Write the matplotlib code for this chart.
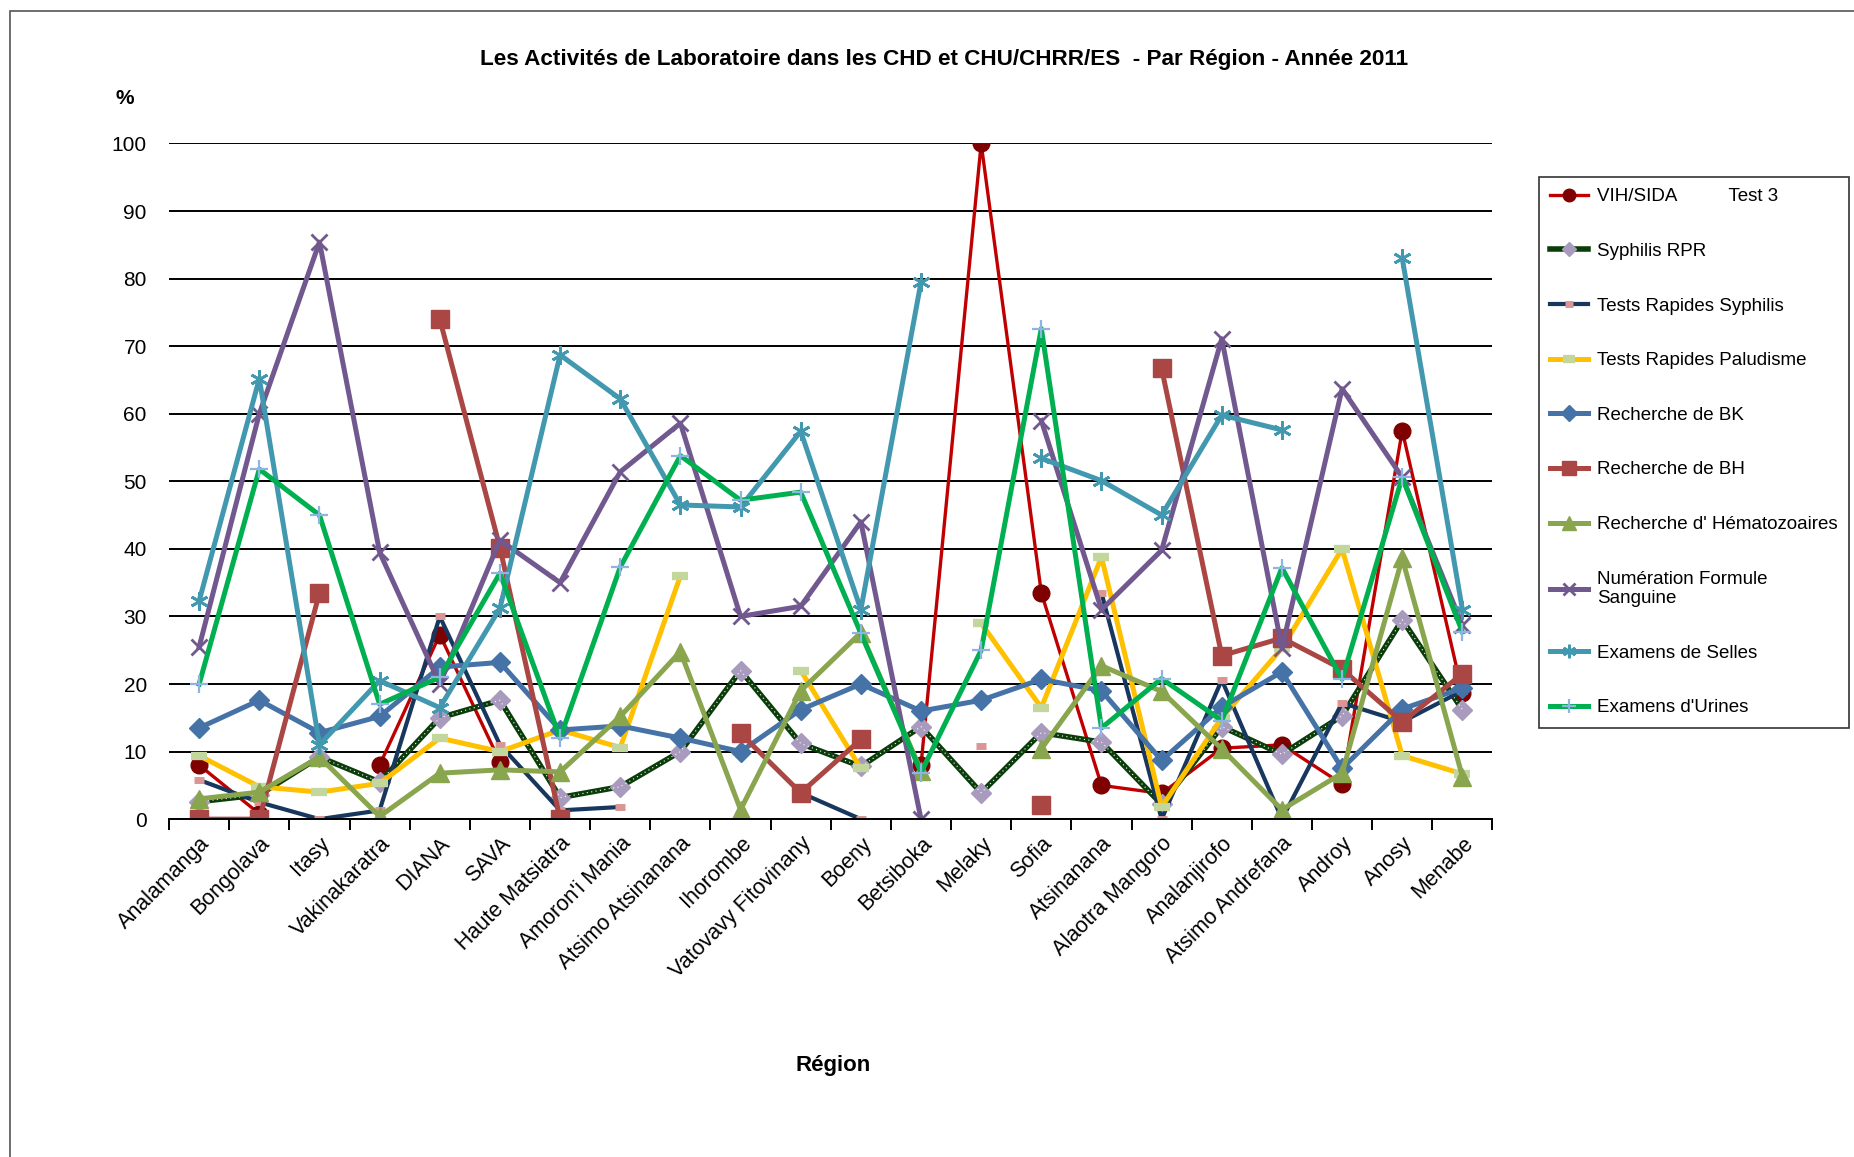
import numpy as np
import matplotlib
matplotlib.use("Agg")
import matplotlib.pyplot as plt
from matplotlib.patches import Rectangle

plt.rcParams['font.family'] = ['Liberation Sans', 'DejaVu Sans']

nan = np.nan

regions = ["Analamanga", "Bongolava", "Itasy", "Vakinakaratra", "DIANA", "SAVA",
           "Haute Matsiatra", "Amoron'i Mania", "Atsimo Atsinanana", "Ihorombe",
           "Vatovavy Fitovinany", "Boeny", "Betsiboka", "Melaky", "Sofia",
           "Atsinanana", "Alaotra Mangoro", "Analanjirofo", "Atsimo Andrefana",
           "Androy", "Anosy", "Menabe"]

# valeurs (%)
vih = [8, 0.8, nan, 8, 27.3, 8.5, nan, nan, nan, nan, nan, nan, 8, 100, 33.5,
       5, 3.8, 10.5, 11, 5.2, 57.5, 18.7]
syphilis_rpr = [2.6, 3.6, 9.2, 5.5, 15, 17.6, 3.2, 4.8, 10, 22, 11.2, 7.8, 13.7,
                3.9, 12.8, 11.4, 2.2, 13.7, 9.6, 15.3, 29.5, 16.2]
tr_syphilis = [5.8, 2.5, 0, 1.3, 30, 11, 1.3, 1.8, nan, nan, 3.9, 0, nan, 10.8,
               nan, 33.5, 0, 20.6, 0, 17.2, 14.4, 19]
tr_palu = [9.4, 4.8, 4, 5.3, 12, 10, 13.2, 10.6, 36, nan, 22, 7.5, nan, 29,
           16.5, 38.8, 1.8, 15, 25.3, 40, 9.4, 6.7]
bk = [13.5, 17.6, 12.8, 15.2, 22.5, 23.2, 13.2, 13.8, 12, 10, 16.2, 20, 16,
      17.6, 20.7, 19, 8.7, 16.6, 21.8, 7.5, 16.3, 19.4]
bh = [0, 0, 33.5, nan, 74, 40.2, 0, nan, nan, 12.7, 3.9, 11.8, nan, nan, 2.1,
      nan, 66.7, 24.2, 26.8, 22.2, 14.4, 21.5]
hemato = [3, 4, 9.2, 0.4, 6.8, 7.3, 7, 15.2, 24.8, 1.4, 19, 27.6, 7.2, nan,
          10.4, 22.7, 18.9, 10.4, 1.4, 6.8, 38.6, 6.3]
nfs = [25.5, 60, 85.4, 39.5, 20, 41.3, 35, 51.4, 58.6, 30, 31.5, 44, 0, nan,
       59, 31, 39.8, 71.1, 25.3, 63.7, 50.6, 28.7]
selles = [32.3, 65.2, 11, 20.5, 16.5, 31.2, 68.7, 62.2, 46.5, 46.2, 57.4, 31,
          79.5, nan, 53.4, 50.1, 45, 59.8, 57.6, nan, 83, 31]
urines = [20, 51.8, 45, 17, 21, 36.4, 12, 37.3, 53.8, 47.2, 48.4, 27.5, 6.9,
          25, 72.6, 13.5, 20.8, 14.6, 37.2, 20.7, 50.6, 27.7]

x = np.arange(len(regions))

fig = plt.figure(figsize=(18.54, 11.57), dpi=100)
ax = fig.add_axes([0.0912, 0.292, 0.7138, 0.584])

# cadre du graphique
fig.patches.append(Rectangle((10 / 1854, -0.05), 1.2, 1.05 - 11 / 1157,
                             transform=fig.transFigure, fill=False,
                             edgecolor='#555555', linewidth=1.2))

ax.plot(x, vih, color='#C00000', lw=2.4, marker='o', ms=12,
        mfc='#7F0000', mec='#7F0000', label='VIH/SIDA          Test 3')
ax.plot(x, syphilis_rpr, color='#0B3D0B', lw=4, marker='D', ms=10,
        mfc='#A99BBD', mec='#A99BBD', label='Syphilis RPR')
ax.plot(x, syphilis_rpr, color='white', lw=0.8, ls=(0, (1, 3)))
ax.plot(x, tr_syphilis, color='#17375E', lw=3, marker='_', ms=7, mew=5,
        mec='#D99694', label='Tests Rapides Syphilis')
ax.plot(x, tr_palu, color='#FFC000', lw=3.6, marker='_', ms=11, mew=6,
        mec='#C3D69B', label='Tests Rapides Paludisme')
ax.plot(x, bk, color='#4572A7', lw=3.6, marker='D', ms=10.5,
        mfc='#4572A7', mec='#4572A7', label='Recherche de BK')
ax.plot(x, bh, color='#AA4643', lw=3.6, marker='s', ms=12.5,
        mfc='#AA4643', mec='#AA4643', label='Recherche de BH')
ax.plot(x, hemato, color='#89A54E', lw=3.6, marker='^', ms=13,
        mfc='#89A54E', mec='#89A54E', label="Recherche d' Hématozoaires")
ax.plot(x, nfs, color='#71588F', lw=3.6, marker='x', ms=11, mew=2,
        mec='#71588F', label='Numération Formule\nSanguine')
ax.plot(x, selles, color='#4198AF', lw=3.6, marker=(6, 2, 0), ms=13, mew=2,
        mec='#4198AF', label='Examens de Selles')
ax.plot(x, urines, color='#00B050', lw=3.6, marker='+', ms=13, mew=1.6,
        mec='#8EB4E3', label="Examens d'Urines")

ax.set_xlim(-0.5, len(regions) - 0.5)
ax.set_ylim(0, 100)
ax.set_yticks(np.arange(0, 101, 10))
ax.grid(axis='y', color='black', lw=1.4)
ax.set_axisbelow(True)
for s in ['top', 'right', 'left']:
    ax.spines[s].set_visible(False)
ax.spines['bottom'].set_linewidth(1.4)
ax.tick_params(axis='y', length=0, pad=16, labelsize=15)

ax.set_xticks(x)
ax.set_xticklabels(regions, rotation=45, ha='right', rotation_mode='anchor',
                   fontsize=15.5)
ax.set_xticks(np.arange(-0.5, len(regions)), minor=True)
ax.tick_params(axis='x', which='major', length=0, pad=10)
ax.tick_params(axis='x', which='minor', length=8, width=1.4, direction='out')

fig.text(0.509, 1 - 59 / 1157,
         "Les Activités de Laboratoire dans les CHD et CHU/CHRR/ES  - Par Région - Année 2011",
         ha='center', va='center', fontsize=16.2, fontweight='bold')
fig.text(125 / 1854, 1 - 98 / 1157, '%', ha='center', va='center',
         fontsize=15, fontweight='bold')
fig.text(833 / 1854, 1 - 1065 / 1157, 'Région', ha='center', va='center',
         fontsize=16, fontweight='bold')

handles, labels = ax.get_legend_handles_labels()
leg = fig.legend(handles, labels, loc='upper left',
                 bbox_to_anchor=(1539 / 1854, 1 - 177 / 1157),
                 borderaxespad=0, fontsize=13.5, frameon=True, fancybox=False,
                 edgecolor='black', labelspacing=2.0, handlelength=2.0,
                 borderpad=0.6, handletextpad=0.5, markerscale=0.75)
leg.get_frame().set_linewidth(1.2)

fig.savefig('out.png', dpi=100, facecolor='white')
